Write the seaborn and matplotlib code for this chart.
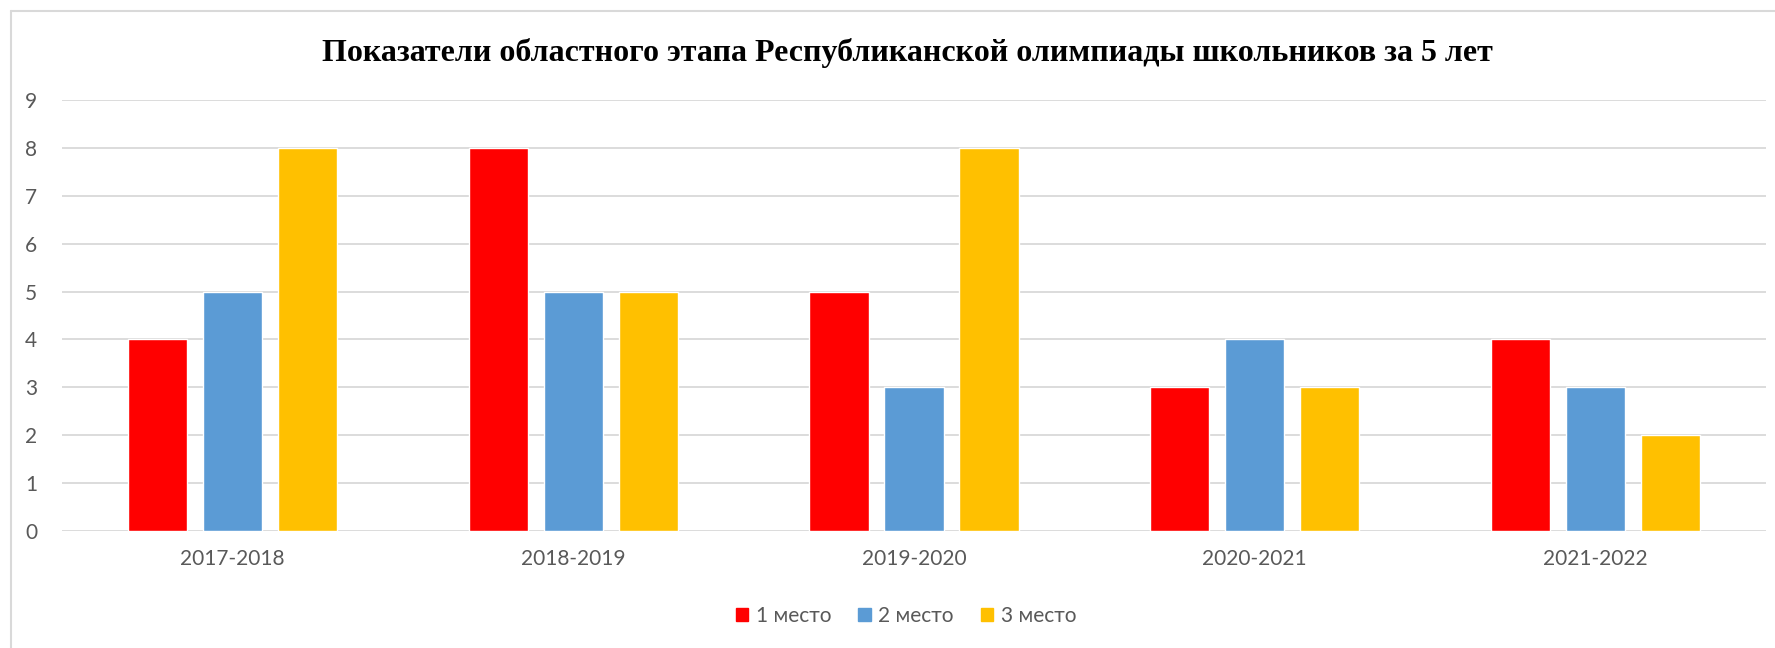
import matplotlib.pyplot as plt
import matplotlib.patches as mpatches
import seaborn as sns
import pandas as pd

# data
years = ["2017-2018", "2018-2019", "2019-2020", "2020-2021", "2021-2022"]
places = ["1 место", "2 место", "3 место"]
first_place = [4, 8, 5, 3, 4]
second_place = [5, 5, 3, 4, 3]
third_place = [8, 5, 8, 3, 2]
colors = ["#FF0000", "#5B9BD5", "#FFC000"]
title = "Показатели областного этапа Республиканской олимпиады школьников за 5 лет"

df = pd.DataFrame({
    "year": years * 3,
    "place": [places[0]] * 5 + [places[1]] * 5 + [places[2]] * 5,
    "value": first_place + second_place + third_place,
})

sns.set_style("white")
plt.rcParams['font.family'] = ['Lato', 'DejaVu Sans']

fig = plt.figure(figsize=(17.75, 6.48), dpi=100)
ax = fig.add_axes([62 / 1775, 1 - 531 / 648, (1766 - 62) / 1775, (531 - 100) / 648])

sns.barplot(data=df, x="year", y="value", hue="place", palette=colors,
            width=0.66, gap=0.21, saturation=1, ax=ax, legend=False)

ax.set_ylim(0, 9)
ax.set_yticks(range(0, 10))
ax.set_xlim(-0.5, 4.5)
ax.set_axisbelow(True)
ax.yaxis.grid(True, color="#D9D9D9", linewidth=1.3)
sns.despine(ax=ax, left=True, bottom=True, top=True, right=True)
ax.set_xlabel("")
ax.set_ylabel("")
ax.tick_params(axis="both", length=0, labelsize=15, labelcolor="#595959")
ax.tick_params(axis="y", pad=18)
ax.tick_params(axis="x", pad=13)

fig.text(907 / 1775, 1 - 53 / 648, title, ha="center", va="center",
         fontsize=23, fontweight="bold", family="Liberation Serif", color="black")

handles = [mpatches.Patch(color=c, label=p) for c, p in zip(colors, places)]
fig.legend(handles=handles, loc="center", bbox_to_anchor=(906 / 1775, 1 - 616 / 648),
           ncol=3, frameon=False, fontsize=15, labelcolor="#595959",
           handlelength=0.6, handleheight=0.6, handletextpad=0.35, columnspacing=1.3)

# thin chart-area border (left and top edges visible in the reference)
fig.add_artist(plt.Line2D([11 / 1775, 11 / 1775], [0, 1 - 11 / 648], transform=fig.transFigure,
                          color="#D9D9D9", linewidth=1.5))
fig.add_artist(plt.Line2D([11 / 1775, 1], [1 - 11 / 648, 1 - 11 / 648], transform=fig.transFigure,
                          color="#D9D9D9", linewidth=1.5))

fig.savefig("out.png", dpi=100, facecolor="white")
